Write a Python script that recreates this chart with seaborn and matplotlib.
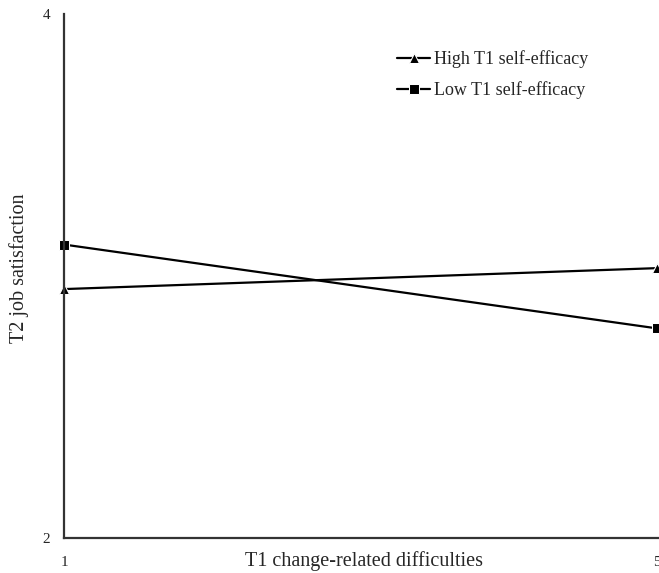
import matplotlib
matplotlib.use('Agg')

import pandas as pd
import matplotlib.pyplot as plt
import seaborn as sns

# ---------------- DATA ----------------
difficulties = [1, 5]
high_efficacy = [2.95, 3.03]
low_efficacy = [3.12, 2.80]
series_names = ["High T1 self-efficacy", "Low T1 self-efficacy"]
y_ticks = [2, 4]
x_ticks = [1, 5]
# --------------------------------------

df = pd.DataFrame({
    'difficulties': difficulties * 2,
    'satisfaction': high_efficacy + low_efficacy,
    'group': [series_names[0]] * 2 + [series_names[1]] * 2,
})

sns.set_theme(style="white")
plt.rcParams['font.family'] = ['Liberation Serif', 'DejaVu Serif']

fig = plt.figure(figsize=(6.59, 5.73), dpi=100)
ax = fig.add_axes([0.0971, 0.0611, 0.903, 0.9145])

sns.lineplot(data=df, x='difficulties', y='satisfaction', hue='group', style='group',
             markers={series_names[0]: '^', series_names[1]: 's'}, dashes=False,
             palette={series_names[0]: 'black', series_names[1]: 'black'},
             markersize=7, linewidth=1.6, ax=ax, clip_on=False)

ax.set_xlim(1, 5.0135)
ax.set_ylim(2, 4)
ax.set_xticks(x_ticks)
ax.set_yticks(y_ticks)
ax.tick_params(axis='both', length=0, labelsize=11)
ax.tick_params(axis='x', pad=13)
ax.tick_params(axis='y', pad=10)

for side in ['top', 'right']:
    ax.spines[side].set_visible(False)
for side in ['left', 'bottom']:
    ax.spines[side].set_color('#333333')
    ax.spines[side].set_linewidth(1.6)

ax.set_xlabel("T1 change-related difficulties", fontsize=14.5)
ax.xaxis.label.set_va('center')
ax.xaxis.set_label_coords(0.504, -0.044)
ax.set_ylabel("T2 job satisfaction", fontsize=14.5)
ax.yaxis.label.set_va('center')
ax.yaxis.set_label_coords(-0.075, 0.515)

leg = ax.legend(loc='upper left', bbox_to_anchor=(0.533, 0.962), frameon=False,
                fontsize=13, handlelength=1.8, handletextpad=0.2, labelspacing=0.75)
leg.set_title(None)

plt.savefig("out.png", dpi=100)
plt.close()
